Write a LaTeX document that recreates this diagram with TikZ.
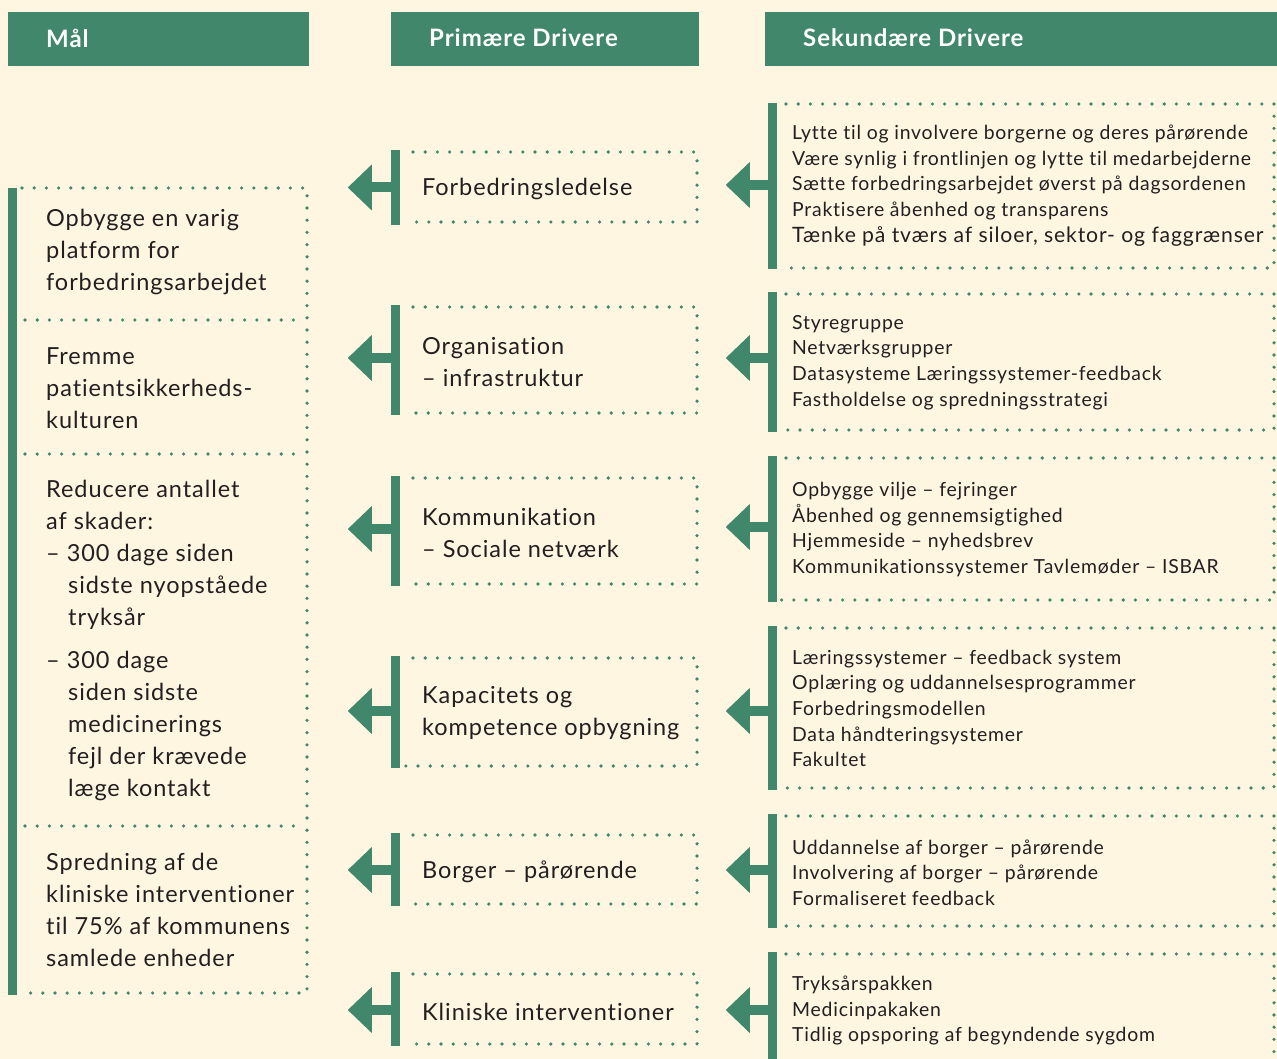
\documentclass[tikz,border=0pt]{standalone}
\usepackage{fontspec}
\setmainfont{Lato}[LetterSpace=4, Ligatures=NoCommon]
\usetikzlibrary{arrows.meta}
\definecolor{drgreen}{HTML}{41876B}
\definecolor{drbg}{HTML}{FFF6E2}
\definecolor{drtext}{HTML}{231F20}
\tikzset{
	headbox/.style={fill=drgreen},
	headtext/.style={anchor=west, inner sep=0, text=white, font=\fontsize{24}{28}\selectfont\bfseries},
	dotline/.style={draw=drgreen, line width=3.6pt, line cap=round, dash pattern=on 0pt off 12.2pt},
	greenbar/.style={fill=drgreen, inner sep=0, minimum width=9},
	bigtxt/.style={anchor=west, align=left, inner sep=0, yshift=-2pt, text=drtext, font=\fontsize{23.5}{32}\selectfont},
	smalltxt/.style={anchor=west, align=left, inner sep=0, yshift=-2pt, text=drtext, font=\fontsize{19.4}{25.7}\selectfont},
	bigarrow/.style={draw=drgreen, line width=10pt, -{Triangle[width=46pt,length=24pt,line width=0pt]}},
}

\begin{document}
\begin{tikzpicture}[x=1pt, y=-1pt]
		%%%%% START %%%%%
		
		\fill[drbg] (0, 0) rectangle (1277, 1059);
		\useasboundingbox (0, 0) rectangle (1277, 1059);
		
		%%%%% headers
		\fill[headbox] (8, 12) rectangle (309, 66);
		\fill[headbox] (391, 12) rectangle (699, 66);
		\fill[headbox] (765, 12) rectangle (1277, 66);
		\node[headtext] (hmaal) at (46, 38) {Mål};
		\node[headtext] (hprim) at (429, 38) {Primære Drivere};
		\node[headtext] (hsek) at (803, 38) {Sekundære Drivere};
		
		%%%%% goals
		\fill[drgreen] (8, 188) rectangle (17, 995);
		\draw[dotline] (22, 188) -- (307, 188) -- (307, 993) -- (25, 993);
		\draw[dotline] (25, 320) -- (300, 320);
		\draw[dotline] (25, 454) -- (300, 454);
		\draw[dotline] (25, 826) -- (300, 826);
		
		\node[bigtxt] (g1) at (46, 250) {Opbygge en varig\\platform for\\forbedringsarbejdet};
		\node[bigtxt] (g2) at (46, 386) {Fremme\\patientsikkerheds-\\kulturen};
		\node[bigtxt] (g3) at (46, 638) {Reducere antallet\\af skader:\\– 300 dage siden\\\hspace*{22pt}sidste nyopståede\\\hspace*{22pt}tryksår\\[11pt]– 300 dage\\\hspace*{22pt}siden sidste\\\hspace*{22pt}medicinerings\\\hspace*{22pt}fejl der krævede\\\hspace*{22pt}læge kontakt};
		\node[bigtxt] (g4) at (46, 908) {Spredning af de\\kliniske interventioner\\til 75\% af kommunens\\samlede enheder};
		
		%%%%% primary drivers
		\node[greenbar, minimum height=75] (p1bar) at (395.5, 187.5) {};
		\draw[dotline] (413, 152) -- (697, 152) -- (697, 222) -- (405, 222);
		\node[bigtxt] (p1) at (422, 187) {Forbedringsledelse};
		\draw[bigarrow] (p1bar.west) -- ++(-43, 0);
		
		\node[greenbar, minimum height=110] (p2bar) at (395.5, 360) {};
		\draw[dotline] (413, 307) -- (697, 307) -- (697, 413) -- (405, 413);
		\node[bigtxt] (p2) at (422, 360) {Organisation\\– infrastruktur};
		\draw[bigarrow] (p2bar.west |- 0, 358) -- ++(-43, 0);
		
		\node[greenbar, minimum height=110] (p3bar) at (395.5, 531) {};
		\draw[dotline] (413, 478) -- (697, 478) -- (697, 584) -- (405, 584);
		\node[bigtxt] (p3) at (422, 531) {Kommunikation\\– Sociale netværk};
		\draw[bigarrow] (p3bar.west |- 0, 529) -- ++(-43, 0);
		
		\node[greenbar, minimum height=112] (p4bar) at (395.5, 712) {};
		\draw[dotline] (413, 658) -- (697, 658) -- (697, 766) -- (405, 766);
		\node[bigtxt] (p4) at (422, 711) {Kapacitets og\\kompetence opbygning};
		\draw[bigarrow] (p4bar.west |- 0, 711) -- ++(-43, 0);
		
		\node[greenbar, minimum height=73] (p5bar) at (395.5, 869.5) {};
		\draw[dotline] (413, 835) -- (697, 835) -- (697, 904) -- (405, 904);
		\node[bigtxt] (p5) at (422, 870) {Borger – pårørende};
		\draw[bigarrow] (p5bar.west |- 0, 870) -- ++(-43, 0);
		
		\node[greenbar, minimum height=74] (p6bar) at (395.5, 1009) {};
		\draw[dotline] (413, 974) -- (697, 974) -- (697, 1044) -- (405, 1044);
		\node[bigtxt] (p6) at (422, 1010) {Kliniske interventioner};
		\draw[bigarrow] (p6bar.west |- 0, 1010) -- ++(-43, 0);
		
		%%%%% secondary drivers
		\node[greenbar, minimum height=166] (s1bar) at (772.5, 186) {};
		\draw[dotline] (786, 104) -- (1274, 104) -- (1274, 268) -- (780, 268);
		\node[smalltxt] (s1) at (792, 183.5) {Lytte til og involvere borgerne og deres pårørende\\Være synlig i frontlinjen og lytte til medarbejderne\\Sætte forbedringsarbejdet øverst på dagsordenen\\Praktisere åbenhed og transparens\\{\fontsize{21.2}{25.7}\selectfont Tænke på tværs af siloer, sektor- og faggrænser}};
		\draw[bigarrow] (s1bar.west |- 0, 185) -- ++(-42, 0);
		
		\node[greenbar, minimum height=140] (s2bar) at (772.5, 362) {};
		\draw[dotline] (786, 294) -- (1274, 294) -- (1274, 430) -- (780, 430);
		\node[smalltxt] (s2) at (792, 360.5) {Styregruppe\\Netværksgrupper\\Datasysteme Læringssystemer-feedback\\Fastholdelse og spredningsstrategi};
		\draw[bigarrow] (s2bar.west |- 0, 358) -- ++(-42, 0);
		
		\node[greenbar, minimum height=146] (s3bar) at (772.5, 529) {};
		\draw[dotline] (786, 458) -- (1274, 458) -- (1274, 600) -- (780, 600);
		\node[smalltxt] (s3) at (792, 527.5) {Opbygge vilje – fejringer\\Åbenhed og gennemsigtighed\\Hjemmeside – nyhedsbrev\\Kommunikationssystemer Tavlemøder – ISBAR};
		\draw[bigarrow] (s3bar.west |- 0, 527) -- ++(-42, 0);
		
		\node[greenbar, minimum height=164] (s4bar) at (772.5, 708) {};
		\draw[dotline] (786, 628) -- (1274, 628) -- (1274, 788) -- (780, 788);
		\node[smalltxt] (s4) at (792, 706.5) {Læringssystemer – feedback system\\Oplæring og uddannelsesprogrammer\\Forbedringsmodellen\\Data håndteringsystemer\\Fakultet};
		\draw[bigarrow] (s4bar.west |- 0, 711) -- ++(-42, 0);
		
		\node[greenbar, minimum height=114] (s5bar) at (772.5, 871) {};
		\draw[dotline] (786, 816) -- (1274, 816) -- (1274, 926) -- (780, 926);
		\node[smalltxt] (s5) at (792, 870.5) {Uddannelse af borger – pårørende\\Involvering af borger – pårørende\\Formaliseret feedback};
		\draw[bigarrow] (s5bar.west |- 0, 870) -- ++(-42, 0);
		
		\node[greenbar, minimum height=110] (s6bar) at (772.5, 1007) {};
		\draw[dotline] (786, 954) -- (1274, 954) -- (1274, 1059);
		\node[smalltxt] (s6) at (792, 1008.5) {Tryksårspakken\\Medicinpakaken\\Tidlig opsporing af begyndende sygdom};
		\draw[bigarrow] (s6bar.west |- 0, 1010) -- ++(-42, 0);
		
		%%%%% END %%%%%
\end{tikzpicture}
\end{document}
